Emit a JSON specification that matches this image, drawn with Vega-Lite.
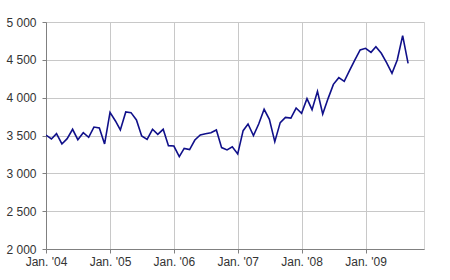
{
  "$schema": "https://vega.github.io/schema/vega-lite/v6.json",
  "autosize": "none",
  "width": 378,
  "height": 227,
  "padding": {"left": 46, "top": 22, "right": 26, "bottom": 31},
  "background": "white",
  "config": {
    "view": {"stroke": "#d4d4d4", "strokeWidth": 1},
    "axis": {
      "labelFont": "Liberation Sans",
      "labelFontSize": 12,
      "labelColor": "#333333",
      "domainColor": "#808080",
      "tickColor": "#808080",
      "gridColor": "#c8c8c8",
      "gridWidth": 1,
      "tickSize": 4,
      "title": null
    }
  },
  "data": {
    "values": [
      {"date": "2004-01-01", "value": 3505},
      {"date": "2004-02-01", "value": 3454},
      {"date": "2004-03-01", "value": 3524},
      {"date": "2004-04-01", "value": 3388},
      {"date": "2004-05-01", "value": 3458},
      {"date": "2004-06-01", "value": 3582},
      {"date": "2004-07-01", "value": 3445},
      {"date": "2004-08-01", "value": 3537},
      {"date": "2004-09-01", "value": 3476},
      {"date": "2004-10-01", "value": 3612},
      {"date": "2004-11-01", "value": 3599},
      {"date": "2004-12-01", "value": 3388},
      {"date": "2005-01-01", "value": 3806},
      {"date": "2005-02-01", "value": 3692},
      {"date": "2005-03-01", "value": 3573},
      {"date": "2005-04-01", "value": 3811},
      {"date": "2005-05-01", "value": 3802},
      {"date": "2005-06-01", "value": 3705},
      {"date": "2005-07-01", "value": 3493},
      {"date": "2005-08-01", "value": 3449},
      {"date": "2005-09-01", "value": 3582},
      {"date": "2005-10-01", "value": 3515},
      {"date": "2005-11-01", "value": 3582},
      {"date": "2005-12-01", "value": 3366},
      {"date": "2006-01-01", "value": 3361},
      {"date": "2006-02-01", "value": 3220},
      {"date": "2006-03-01", "value": 3330},
      {"date": "2006-04-01", "value": 3313},
      {"date": "2006-05-01", "value": 3440},
      {"date": "2006-06-01", "value": 3507},
      {"date": "2006-07-01", "value": 3524},
      {"date": "2006-08-01", "value": 3537},
      {"date": "2006-09-01", "value": 3573},
      {"date": "2006-10-01", "value": 3340},
      {"date": "2006-11-01", "value": 3310},
      {"date": "2006-12-01", "value": 3352},
      {"date": "2007-01-01", "value": 3256},
      {"date": "2007-02-01", "value": 3564},
      {"date": "2007-03-01", "value": 3652},
      {"date": "2007-04-01", "value": 3498},
      {"date": "2007-05-01", "value": 3652},
      {"date": "2007-06-01", "value": 3846},
      {"date": "2007-07-01", "value": 3714},
      {"date": "2007-08-01", "value": 3419},
      {"date": "2007-09-01", "value": 3670},
      {"date": "2007-10-01", "value": 3740},
      {"date": "2007-11-01", "value": 3731},
      {"date": "2007-12-01", "value": 3863},
      {"date": "2008-01-01", "value": 3793},
      {"date": "2008-02-01", "value": 3987},
      {"date": "2008-03-01", "value": 3841},
      {"date": "2008-04-01", "value": 4084},
      {"date": "2008-05-01", "value": 3784},
      {"date": "2008-06-01", "value": 3991},
      {"date": "2008-07-01", "value": 4176},
      {"date": "2008-08-01", "value": 4264},
      {"date": "2008-09-01", "value": 4216},
      {"date": "2008-10-01", "value": 4357},
      {"date": "2008-11-01", "value": 4498},
      {"date": "2008-12-01", "value": 4630},
      {"date": "2009-01-01", "value": 4652},
      {"date": "2009-02-01", "value": 4599},
      {"date": "2009-03-01", "value": 4674},
      {"date": "2009-04-01", "value": 4586},
      {"date": "2009-05-01", "value": 4463},
      {"date": "2009-06-01", "value": 4322},
      {"date": "2009-07-01", "value": 4498},
      {"date": "2009-08-01", "value": 4819},
      {"date": "2009-09-01", "value": 4454}
    ]
  },
  "mark": {"type": "line", "color": "#10108a", "strokeWidth": 1.6, "clip": true},
  "encoding": {
    "x": {
      "field": "date",
      "type": "temporal",
      "scale": {
        "type": "utc",
        "domain": [
          {"year": 2004, "month": 1, "date": 1, "utc": true},
          {"year": 2009, "month": 12, "date": 1, "utc": true}
        ]
      },
      "axis": {
        "values": [
          {"year": 2004, "month": 1, "date": 1, "utc": true},
          {"year": 2005, "month": 1, "date": 1, "utc": true},
          {"year": 2006, "month": 1, "date": 1, "utc": true},
          {"year": 2007, "month": 1, "date": 1, "utc": true},
          {"year": 2008, "month": 1, "date": 1, "utc": true},
          {"year": 2009, "month": 1, "date": 1, "utc": true}
        ],
        "labelExpr": "'Jan. \\'' + utcFormat(datum.value, '%y')",
        "labelPadding": 3,
        "labelAlign": "center",
        "labelFlush": false,
        "labelOverlap": false,
        "labelBound": false,
        "grid": true
      }
    },
    "y": {
      "field": "value",
      "type": "quantitative",
      "scale": {"domain": [2000, 5000], "nice": false, "zero": false},
      "axis": {
        "values": [2000, 2500, 3000, 3500, 4000, 4500, 5000],
        "labelExpr": "replace(format(datum.value, ','), ',', ' ')",
        "labelPadding": 6,
        "labelFlush": false,
        "grid": true
      }
    }
  }
}
